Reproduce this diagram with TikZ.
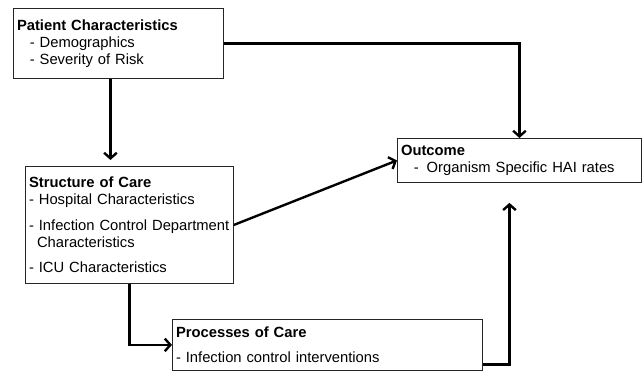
\documentclass[tikz,border=0pt]{standalone}
\usepackage{fontspec}
\setmainfont{Liberation Sans}
\usetikzlibrary{arrows.meta, positioning}

\begin{document}
\begin{tikzpicture}[
    x=0.025cm, y=-0.025cm,
    >={Straight Barb[length=4pt, width=9pt]},
    box/.style={draw=black!85, line width=0.6pt, anchor=north west, align=left, inner xsep=0.09cm, inner ysep=0pt, text width=#1, font=\fontsize{10.5}{12}\selectfont},
    link/.style={->, line width=1.7pt, black}
]
\useasboundingbox (0,0) rectangle (644,372);

\node[box=5.07cm, minimum height=1.75cm] (pat) at (13,8) {\textbf{Patient Characteristics}\\\hspace*{0.32cm}- Demographics\\\hspace*{0.32cm}- Severity of Risk};
\node[box=5.02cm, minimum height=2.925cm] (str) at (25,166) {\textbf{Structure of Care}\\- Hospital Characteristics\\[0.22cm]- Infection Control Department\\\hspace*{0.2cm}Characteristics\\[0.22cm]- ICU Characteristics};
\node[box=5.92cm, minimum height=1.1cm] (out) at (397,138) {\textbf{Outcome}\\\hspace*{0.32cm}-\hspace*{0.2cm}Organism Specific HAI rates};
\node[box=7.57cm, minimum height=1.275cm] (proc) at (172,319) {\textbf{Processes of Care}\\[0.2cm]- Infection control interventions};

\draw[link, shorten >=0.15cm] ([xshift=-0.2cm]pat.south) -- ([xshift=-0.2cm]pat.south |- str.north);
\draw[link] (pat.east) -| (out.north);
\draw[link] (str.east) -- (out.west);
\draw[link] (str.south) |- (proc.west);
\draw[link, shorten >=0.5cm] ([yshift=-0.49cm]proc.east) -| ([xshift=-0.25cm]out.south);

\end{tikzpicture}
\end{document}
